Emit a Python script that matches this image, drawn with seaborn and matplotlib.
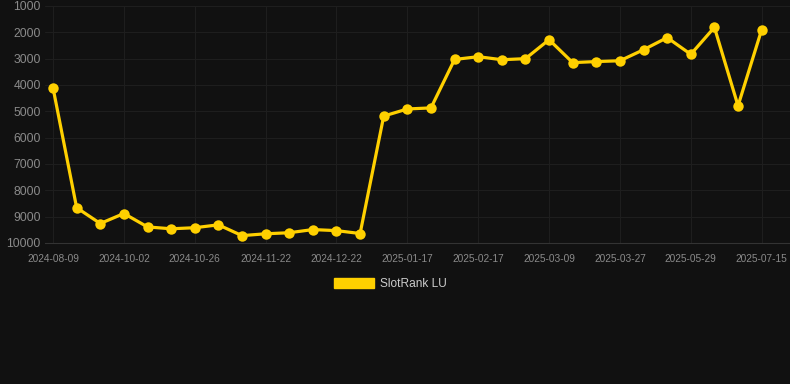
import matplotlib
matplotlib.use("Agg")
import matplotlib.pyplot as plt
import matplotlib.patches as mpatches
import seaborn as sns
import pandas as pd

dates = ["2024-08-09", "2024-08-27", "2024-09-14", "2024-10-02", "2024-10-10", "2024-10-18",
         "2024-10-26", "2024-11-04", "2024-11-13", "2024-11-22", "2024-12-02", "2024-12-12",
         "2024-12-22", "2024-12-30", "2025-01-08", "2025-01-17", "2025-01-27", "2025-02-06",
         "2025-02-17", "2025-02-24", "2025-03-02", "2025-03-09", "2025-03-15", "2025-03-21",
         "2025-03-27", "2025-04-17", "2025-05-08", "2025-05-29", "2025-06-14", "2025-06-30",
         "2025-07-15"]
ranks = [4110, 8660, 9260, 8880, 9390, 9460, 9420, 9310, 9720, 9650, 9610, 9490,
         9530, 9640, 5180, 4910, 4870, 3030, 2925, 3040, 3000, 2280, 3150, 3110,
         3080, 2660, 2200, 2835, 1810, 4790, 1900]
series_name = "SlotRank LU"
y_ticks = [1000, 2000, 3000, 4000, 5000, 6000, 7000, 8000, 9000, 10000]

df = pd.DataFrame({"idx": range(len(dates)), "rank": ranks, "date": dates})

bg = "#111111"
gold = "#FFD000"
sns.set_theme(style="dark")
plt.rcParams["font.family"] = ["Liberation Sans", "DejaVu Sans"]

fig = plt.figure(figsize=(7.9, 3.84), dpi=100, facecolor=bg)
ax = fig.add_axes([45 / 790, 1 - 243 / 384, 1 - 45 / 790, (243 - 6) / 384])
ax.set_facecolor(bg)

sns.lineplot(data=df, x="idx", y="rank", ax=ax, color=gold, linewidth=2.3,
             marker="o", markersize=7.5, markeredgewidth=0, markeredgecolor=gold,
             legend=False)

ax.set_ylim(10000, 1000)
ax.set_xlim(-0.34, 31.2)
ax.set_yticks(y_ticks)
ax.set_yticklabels([str(v) for v in y_ticks])
tick_idx = list(range(0, len(dates), 3))
ax.set_xticks(tick_idx)
ax.set_xticklabels([dates[i] for i in tick_idx])
ax.set_xlabel("")
ax.set_ylabel("")

ax.grid(True, color="#1e1e1e", linewidth=0.8)
ax.tick_params(axis="y", colors="#8a8a8a", labelsize=8.8, length=0, pad=3)
ax.tick_params(axis="x", colors="#8a8a8a", labelsize=7.3, length=3, pad=5, color="#333333")
for s in ["top", "right", "left"]:
    ax.spines[s].set_visible(False)
ax.spines["bottom"].set_color("#333333")
ax.spines["bottom"].set_linewidth(0.8)

handle = mpatches.Patch(color=gold, label=series_name)
leg = fig.legend(handles=[handle], loc="center", bbox_to_anchor=(390 / 790, 1 - 284 / 384),
                 frameon=False, fontsize=8.6, handlelength=3.35, handleheight=1.0,
                 handletextpad=0.5)
for t in leg.get_texts():
    t.set_color("#cccccc")

fig.savefig("out.png", dpi=100, facecolor=bg)
